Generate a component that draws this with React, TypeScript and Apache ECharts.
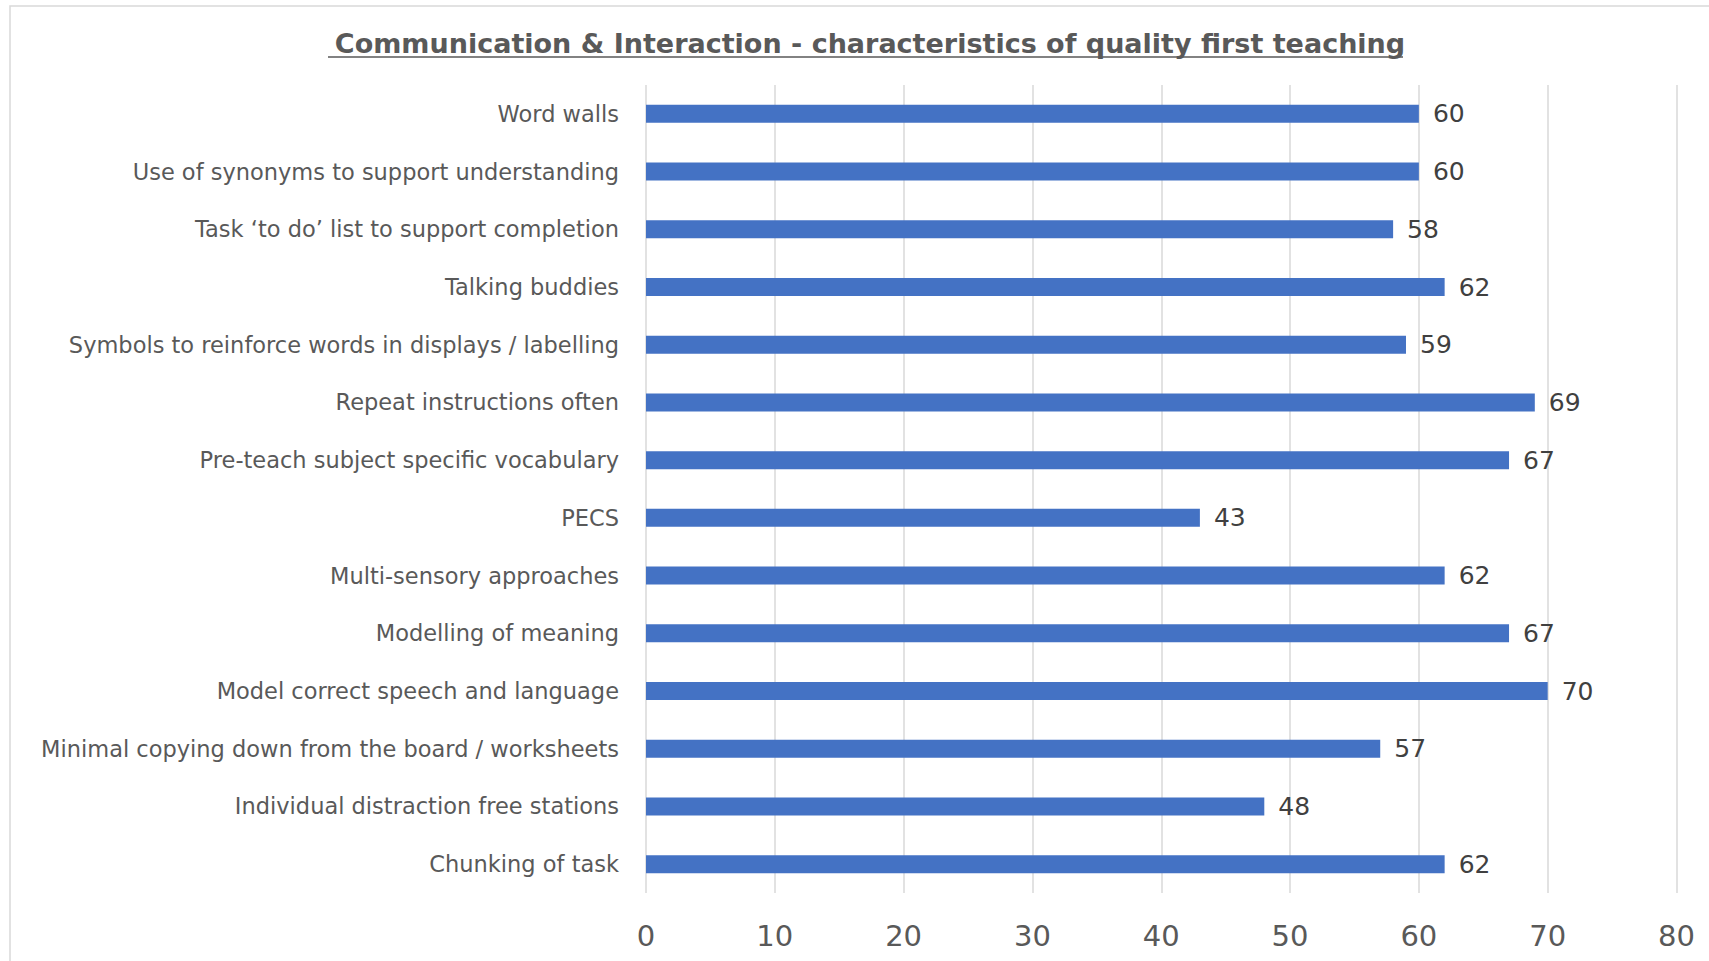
import React, { useEffect, useRef } from "react";
import * as echarts from "echarts";

const categories = [
  "Word walls",
  "Use of synonyms to support understanding",
  "Task \u2018to do\u2019 list to support completion",
  "Talking buddies",
  "Symbols to reinforce words in displays / labelling",
  "Repeat instructions often",
  "Pre-teach subject specific vocabulary",
  "PECS",
  "Multi-sensory approaches",
  "Modelling of meaning",
  "Model correct speech and language",
  "Minimal copying down from the board / worksheets",
  "Individual distraction free stations",
  "Chunking of task",
];
const values = [60, 60, 58, 62, 59, 69, 67, 43, 62, 67, 70, 57, 48, 62];
const titleText = "Communication & Interaction - characteristics of quality first teaching";
const axisMin = 0;
const axisMax = 80;
const axisInterval = 10;

export default function App() {
  const ref = useRef<HTMLDivElement>(null);
  useEffect(() => {
    if (!ref.current) return;
    const chart = echarts.init(ref.current, null, { renderer: "svg" });
    chart.setOption({
      animation: false,
      backgroundColor: "#ffffff",
      title: {
        text: titleText,
        left: 865,
        top: 25,
        textAlign: "center",
        textStyle: {
          fontFamily: "DejaVu Sans",
          fontWeight: "bold",
          fontSize: 27,
          color: "#595959",
        },
      },
      graphic: [
        {
          type: "rect",
          shape: { x: 10, y: 6, width: 1720, height: 980 },
          style: { fill: "none", stroke: "#d9d9d9", lineWidth: 1.5 },
          silent: true,
        },
        {
          type: "line",
          shape: { x1: 328, y1: 57, x2: 1403, y2: 57 },
          style: { stroke: "#595959", lineWidth: 1.5 },
          silent: true,
        },
      ],
      grid: {
        left: 646,
        top: 85,
        width: 1030.5,
        height: 808,
        containLabel: false,
      },
      xAxis: {
        type: "value",
        min: axisMin,
        max: axisMax,
        interval: axisInterval,
        axisLine: { show: false },
        axisTick: { show: false },
        splitLine: { show: true, lineStyle: { color: "#d9d9d9", width: 1.5 } },
        axisLabel: {
          color: "#595959",
          fontFamily: "DejaVu Sans",
          fontSize: 29,
          margin: 28,
        },
      },
      yAxis: {
        type: "category",
        data: categories,
        inverse: true,
        axisLine: { show: false },
        axisTick: { show: false },
        axisLabel: {
          color: "#595959",
          fontFamily: "DejaVu Sans",
          fontSize: 22.5,
          margin: 27,
        },
      },
      series: [
        {
          type: "bar",
          data: values,
          barWidth: 18,
          itemStyle: { color: "#4472C4" },
          label: {
            show: true,
            position: "right",
            distance: 14,
            color: "#404040",
            fontFamily: "DejaVu Sans",
            fontSize: 25,
          },
        },
      ],
    });
    return () => chart.dispose();
  }, []);
  return (
    <div
      ref={ref}
      style={{ position: "fixed", left: 0, top: 0, width: 1709, height: 961 }}
    />
  );
}
